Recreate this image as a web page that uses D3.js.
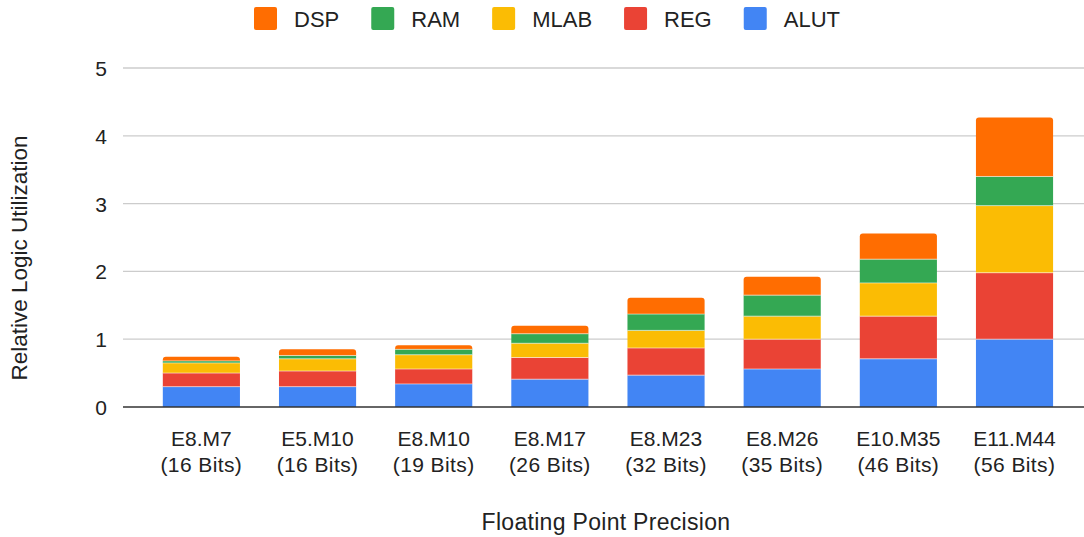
<!DOCTYPE html>
<html>
<head>
<meta charset="utf-8">
<script src="https://cdn.jsdelivr.net/npm/d3@7"></script>
<style>
  html, body { margin: 0; padding: 0; background: #fff; }
  svg { display: block; font-family: "Liberation Sans", Arial, sans-serif; }
</style>
</head>
<body>
<svg id="chart" width="1084" height="537"></svg>
<script>
// Precision formats (two-line tick labels)
const formats = ["E8.M7", "E5.M10", "E8.M10", "E8.M17", "E8.M23", "E8.M26", "E10.M35", "E11.M44"];
const bitWidths = ["(16 Bits)", "(16 Bits)", "(19 Bits)", "(26 Bits)", "(32 Bits)", "(35 Bits)", "(46 Bits)", "(56 Bits)"];

// Relative utilization per resource type
const alut = [0.30, 0.30, 0.34, 0.41, 0.47, 0.56, 0.71, 1.00];
const reg  = [0.20, 0.23, 0.22, 0.32, 0.40, 0.44, 0.63, 0.98];
const mlab = [0.15, 0.18, 0.21, 0.21, 0.26, 0.34, 0.49, 0.99];
const ram  = [0.03, 0.05, 0.08, 0.14, 0.24, 0.31, 0.35, 0.43];
const dsp  = [0.06, 0.09, 0.06, 0.12, 0.24, 0.27, 0.38, 0.87];

const seriesNames = ["ALUT", "REG", "MLAB", "RAM", "DSP"];
const seriesValues = [alut, reg, mlab, ram, dsp];
const colors = ["#4285f4", "#ea4335", "#fbbc04", "#34a853", "#ff6d01"];
const legendOrder = ["DSP", "RAM", "MLAB", "REG", "ALUT"];
const yTicks = [0, 1, 2, 3, 4, 5];

const rows = formats.map((f, i) => {
  const r = { key: f };
  seriesNames.forEach((s, j) => { r[s] = seriesValues[j][i]; });
  return r;
});

const svg = d3.select("#chart");
const textColor = "#222";

const x = d3.scaleBand()
  .domain(formats)
  .range([143.3, 1072.6])
  .paddingInner(0.336)
  .paddingOuter(0.168);

const y = d3.scaleLinear().domain([0, 5]).range([407, 68]);

// Gridlines
svg.append("g")
  .selectAll("line")
  .data(yTicks.filter(t => t > 0))
  .join("line")
  .attr("x1", 123).attr("x2", 1084)
  .attr("y1", d => y(d)).attr("y2", d => y(d))
  .attr("stroke", "#cccccc").attr("stroke-width", 1.3);

// Y tick labels
svg.append("g")
  .selectAll("text")
  .data(yTicks)
  .join("text")
  .attr("x", 107)
  .attr("y", d => y(d) + 8)
  .attr("text-anchor", "end")
  .attr("font-size", 21)
  .attr("fill", textColor)
  .text(d => d);

// Stacked bars
const stack = d3.stack().keys(seriesNames);
const layers = stack(rows);
const topIndex = layers.length - 1;
const radius = 3;

function roundedTop(x0, y0, w, h, r) {
  r = Math.min(r, h);
  return `M${x0},${y0 + h}V${y0 + r}Q${x0},${y0} ${x0 + r},${y0}H${x0 + w - r}Q${x0 + w},${y0} ${x0 + w},${y0 + r}V${y0 + h}Z`;
}

layers.forEach((layer, li) => {
  const g = svg.append("g");
  g.selectAll("path")
    .data(layer)
    .join("path")
    .attr("d", d => {
      const x0 = x(d.data.key);
      const y0 = y(d[1]);
      const h = y(d[0]) - y(d[1]);
      const w = x.bandwidth();
      if (li === topIndex) return roundedTop(x0, y0, w, h, radius);
      return `M${x0},${y0}H${x0 + w}V${y0 + h}H${x0}Z`;
    })
    .attr("fill", colors[li]);
});

// Thin light separators between stacked segments
layers.slice(1).forEach(layer => {
  svg.append("g")
    .selectAll("line")
    .data(layer)
    .join("line")
    .attr("x1", d => x(d.data.key))
    .attr("x2", d => x(d.data.key) + x.bandwidth())
    .attr("y1", d => y(d[0]))
    .attr("y2", d => y(d[0]))
    .attr("stroke", "#ffffff")
    .attr("stroke-opacity", 0.55)
    .attr("stroke-width", 1);
});

// Baseline
svg.append("line")
  .attr("x1", 123).attr("x2", 1084)
  .attr("y1", y(0)).attr("y2", y(0))
  .attr("stroke", "#333333").attr("stroke-width", 1.6);

// X tick labels
const xl = svg.append("g")
  .selectAll("text")
  .data(formats)
  .join("text")
  .attr("text-anchor", "middle")
  .attr("font-size", 21)
  .attr("fill", textColor);
xl.append("tspan")
  .attr("x", d => x(d) + x.bandwidth() / 2)
  .attr("y", 446)
  .text(d => d);
xl.append("tspan")
  .attr("x", d => x(d) + x.bandwidth() / 2)
  .attr("y", 472)
  .attr("letter-spacing", 0.4)
  .text((d, i) => bitWidths[i]);

// Axis titles
svg.append("text")
  .attr("x", 606).attr("y", 530)
  .attr("text-anchor", "middle")
  .attr("font-size", 23)
  .attr("letter-spacing", 0.3)
  .attr("fill", textColor)
  .text("Floating Point Precision");

svg.append("text")
  .attr("transform", "translate(27,258) rotate(-90)")
  .attr("text-anchor", "middle")
  .attr("font-size", 22.5)
  .attr("fill", textColor)
  .text("Relative Logic Utilization");

// Legend
const legend = svg.append("g");
let lx = 254;
legendOrder.forEach(name => {
  const ci = seriesNames.indexOf(name);
  legend.append("rect")
    .attr("x", lx).attr("y", 7)
    .attr("width", 23).attr("height", 23)
    .attr("rx", 2)
    .attr("fill", colors[ci]);
  const t = legend.append("text")
    .attr("x", lx + 40).attr("y", 26.5)
    .attr("font-size", 22)
    .attr("fill", textColor)
    .text(name);
  lx += 40 + t.node().getComputedTextLength() + 32;
});
</script>
</body>
</html>
